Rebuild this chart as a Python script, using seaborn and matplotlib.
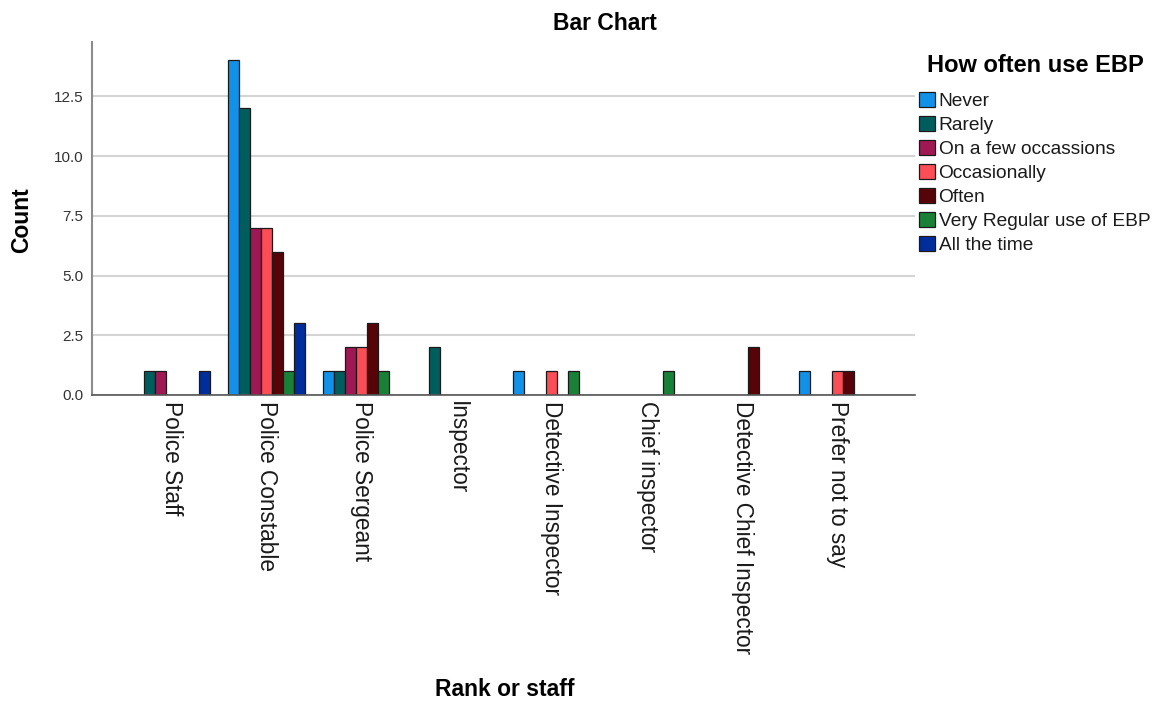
import matplotlib
matplotlib.use("Agg")
import matplotlib.pyplot as plt
from matplotlib.patches import Patch
import seaborn as sns
import pandas as pd

ranks = ["Police Staff", "Police Constable", "Police Sergeant", "Inspector",
         "Detective Inspector", "Chief inspector", "Detective Chief Inspector",
         "Prefer not to say"]
freq_levels = ["Never", "Rarely", "On a few occassions", "Occasionally", "Often",
               "Very Regular use of EBP", "All the time"]
colors = ["#1192e8", "#005d5d", "#9f1853", "#fa4d56", "#570408", "#198038", "#002d9c"]

never      = [0, 14, 1, 0, 1, 0, 0, 1]
rarely     = [1, 12, 1, 2, 0, 0, 0, 0]
few        = [1, 7, 2, 0, 0, 0, 0, 0]
occasional = [0, 7, 2, 0, 1, 0, 0, 1]
often      = [0, 6, 3, 0, 0, 0, 2, 1]
very_reg   = [0, 1, 1, 0, 1, 1, 0, 0]
all_time   = [1, 3, 0, 0, 0, 0, 0, 0]

series = [never, rarely, few, occasional, often, very_reg, all_time]
rows = []
for lvl, vals in zip(freq_levels, series):
    for r, v in zip(ranks, vals):
        rows.append({"Rank or staff": r, "How often use EBP": lvl, "Count": v})
df = pd.DataFrame(rows)

sns.set_style("white")
plt.rcParams["font.family"] = ["Liberation Sans", "DejaVu Sans"]
plt.rcParams["text.color"] = "black"

fig = plt.figure(figsize=(11.6, 7.02), dpi=100)
ax = fig.add_axes([92 / 1160, 1 - 395 / 702, 823 / 1160, 353 / 702])

sns.barplot(data=df, x="Rank or staff", y="Count", hue="How often use EBP",
            order=ranks, hue_order=freq_levels, palette=colors, saturation=1,
            width=0.81, edgecolor="#1a1a1a", linewidth=0.9, ax=ax, legend=False)

for p in ax.patches:
    if p.get_height() == 0:
        p.set_visible(False)

ax.set_xlim(-0.84, 7.82)
ax.set_ylim(0, 14.77)
ax.set_yticks([0, 2.5, 5, 7.5, 10, 12.5])
ax.set_yticklabels(["0.0", "2.5", "5.0", "7.5", "10.0", "12.5"], fontsize=11, color="#333333")
ax.tick_params(axis="both", length=0)
ax.tick_params(axis="y", pad=6)
ax.tick_params(axis="x", pad=4)
for lab in ax.get_xticklabels():
    lab.set_rotation(-90)
    lab.set_fontsize(16.3)
    lab.set_color("#1a1a1a")
    lab.set_ha("center")
    lab.set_va("top")

ax.yaxis.grid(True, color="#d4d4d4", linewidth=1.5)
ax.set_axisbelow(True)
for s in ["top", "right"]:
    ax.spines[s].set_visible(False)
ax.spines["left"].set_color("#8c8c8c")
ax.spines["left"].set_linewidth(1.5)
ax.spines["bottom"].set_color("#555555")
ax.spines["bottom"].set_linewidth(1.2)
ax.set_xlabel("")
ax.set_ylabel("")

fig.text(605 / 1160, 1 - 23 / 702, "Bar Chart", ha="center", va="center",
         fontsize=16.5, fontweight="bold", color="black")
fig.text(505 / 1160, 1 - 690 / 702, "Rank or staff", ha="center", va="center",
         fontsize=16.5, fontweight="bold", color="black")
fig.text(22 / 1160, 1 - 220 / 702, "Count", ha="center", va="center",
         rotation=90, fontsize=16.5, fontweight="bold", color="black")
fig.text(1035 / 1160, 1 - 65 / 702, "How often use EBP", ha="center", va="center",
         fontsize=17, fontweight="bold", color="black")

handles = [Patch(facecolor=c, edgecolor="#1a1a1a", linewidth=0.9, label=l)
           for c, l in zip(colors, freq_levels)]
leg = ax.legend(handles=handles, loc="upper left",
                bbox_to_anchor=(919 / 1160, 1 - 92 / 702), bbox_transform=fig.transFigure,
                frameon=False, fontsize=13.8,
                handlelength=0.82, handleheight=0.82, handletextpad=0.2,
                labelspacing=0.31, borderpad=0, borderaxespad=0)
for t in leg.get_texts():
    t.set_color("#1a1a1a")

fig.savefig("out.png", dpi=100)
